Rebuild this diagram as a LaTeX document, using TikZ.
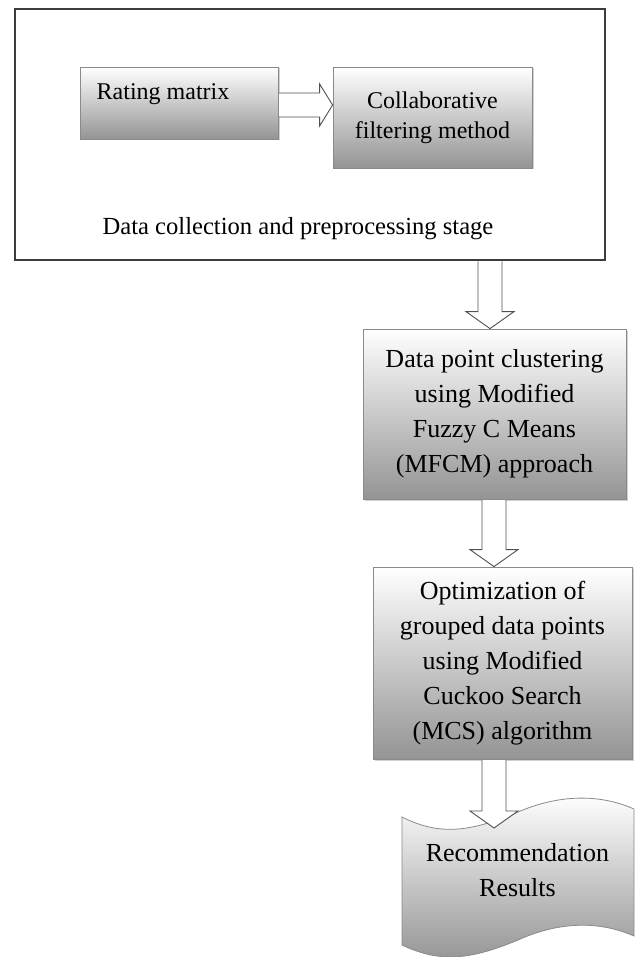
\documentclass[tikz,border=0pt]{standalone}
\usepackage{fontspec}
\setmainfont{Liberation Serif}
\usetikzlibrary{shadows,calc}
\definecolor{boxline}{HTML}{8A8A8A}
\definecolor{outerline}{HTML}{3C3C3C}
\definecolor{arrowline}{HTML}{505050}
\newcommand\blockdown[2]{%
  \draw[barrow] let \p1=(#1), \p2=(#2) in
    (\x1-12pt,\y1-0.6pt) -- (\x1-12pt,\y2+17pt) -- (\x1-24pt,\y2+17pt) -- (\x1,\y2)
    -- (\x1+24pt,\y2+17pt) -- (\x1+12pt,\y2+17pt) -- (\x1+12pt,\y1-0.6pt);}
\newcommand\blockright[2]{%
  \draw[barrow] let \p1=(#1), \p2=(#2) in
    (\x1+0.6pt,\y1+12pt) -- (\x2-13pt,\y1+12pt) -- (\x2-13pt,\y1+21pt) -- (\x2,\y1)
    -- (\x2-13pt,\y1-21pt) -- (\x2-13pt,\y1-12pt) -- (\x1+0.6pt,\y1-12pt);}
\begin{document}
\begin{tikzpicture}[x=1pt,y=-1pt,
  txt/.style={font=\fontsize{24}{30}\selectfont, align=center, inner sep=0pt},
  bigtxt/.style={font=\fontsize{26}{35}\selectfont},
  box/.style={draw=boxline, line width=0.8pt, top color=white, bottom color=black!42,
    drop shadow={shadow xshift=1.5pt, shadow yshift=-1.5pt, opacity=0.3, fill=black!60},
    txt},
  barrow/.style={draw=arrowline, line width=0.9pt, fill=white}]
\useasboundingbox (0,0) rectangle (635,957);
\fill[white] (0,0) rectangle (635,957);

% outer stage box
\node[draw=outerline, line width=1.4pt, fill=white, minimum width=590pt, minimum height=251pt, inner sep=0pt] (stage) at (310,134.5) {};
\node[txt, font=\fontsize{24.6}{30}\selectfont] (stagetext) at (298,229) {Data collection and preprocessing stage};

% inner boxes
\node[box, minimum width=198pt, minimum height=72pt] (rm) at (179,103) {};
\node[txt] (rmtext) at (163,94) {Rating matrix};
\node[box, minimum width=199pt, minimum height=101pt] (cf) at (432.5,117.5) {Collaborative\\filtering method};

\node[box, bigtxt, minimum width=263pt, minimum height=170pt] (dp) at (494.5,414)
  {Data point clustering\\using Modified\\Fuzzy C Means\\(MFCM) approach};
\node[box, bigtxt, minimum width=259pt, minimum height=192pt] (opt) at (502.5,663)
  {Optimization of\\grouped data points\\using Modified\\Cuckoo Search\\(MCS) algorithm};

% document (punched tape) shape
\path[draw=boxline, line width=0.8pt, top color=white, bottom color=black!42]
  (402,817) .. controls (440,836) and (470,832) .. (518,812)
  .. controls (560,794) and (600,794) .. (634,809)
  -- (634,936)
  .. controls (600,921) and (560,921) .. (518,940)
  .. controls (470,960) and (440,963) .. (402,945) -- cycle;
\node[txt, bigtxt] (rec) at (517.5,870) {Recommendation\\Results};
\coordinate (doctop) at (494,828);

% block arrows
\coordinate (ay) at (0,105);
\blockright{rm.east |- ay}{cf.west |- ay}
\coordinate (ax1) at (490,0);
\blockdown{ax1 |- stage.south}{ax1 |- dp.north}
\coordinate (ax2) at (494,0);
\blockdown{ax2 |- dp.south}{ax2 |- opt.north}
\blockdown{ax2 |- opt.south}{doctop}
\end{tikzpicture}
\end{document}
